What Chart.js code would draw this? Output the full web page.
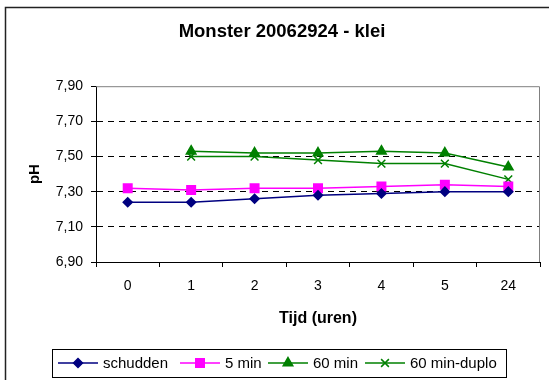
<!DOCTYPE html>
<html>
<head>
<meta charset="utf-8">
<script src="https://cdn.jsdelivr.net/npm/chart.js@4/dist/chart.umd.min.js"></script>
<style>
  body { margin: 0; background: #fff; }
  #wrap { width: 549px; height: 380px; }
</style>
</head>
<body>
<div id="wrap"><canvas id="phChart" width="549" height="380"></canvas></div>
<script>
// data
const uren = ['0', '1', '2', '3', '4', '5', '24'];
const schudden = [7.24, 7.24, 7.26, 7.28, 7.29, 7.30, 7.30];
const vijfMin = [7.32, 7.31, 7.32, 7.32, 7.33, 7.34, 7.33];
const zestigMin = [null, 7.53, 7.52, 7.52, 7.53, 7.52, 7.44];
const zestigMinDuplo = [null, 7.50, 7.50, 7.48, 7.46, 7.46, 7.37];
const yTicks = [6.9, 7.1, 7.3, 7.5, 7.7, 7.9];

Chart.defaults.font.family = '"Liberation Sans", Arial, sans-serif';
Chart.defaults.color = '#000';

// frame round the whole chart + grey top/right edge of the plot
const frames = {
    id: 'frames',
    beforeDraw(chart) {
        const ctx = chart.ctx;
        ctx.save();
        ctx.strokeStyle = '#222';
        ctx.lineWidth = 1.5;
        ctx.strokeRect(5.5, 7.5, 700, 500);
        ctx.restore();
    },
    beforeDatasetsDraw(chart) {
        const a = chart.chartArea;
        const ctx = chart.ctx;
        ctx.save();
        ctx.strokeStyle = '#808080';
        ctx.lineWidth = 1;
        ctx.beginPath();
        ctx.moveTo(a.left, a.top + 0.5);
        ctx.lineTo(a.right - 0.5, a.top + 0.5);
        ctx.lineTo(a.right - 0.5, a.bottom);
        ctx.stroke();
        ctx.restore();
    }
};

// boxed legend with line + marker samples
const boxLegend = {
    id: 'boxLegend',
    afterDraw(chart) {
        const ctx = chart.ctx;
        const starts = [58, 180, 268, 365];
        const y = 363;
        ctx.save();
        ctx.strokeStyle = '#000';
        ctx.lineWidth = 1;
        ctx.strokeRect(52.5, 349.5, 454, 28);
        ctx.font = '15px "Liberation Sans", Arial, sans-serif';
        ctx.textBaseline = 'middle';
        ctx.textAlign = 'left';
        chart.data.datasets.forEach((ds, i) => {
            const x0 = starts[i];
            ctx.strokeStyle = ds.borderColor;
            ctx.lineWidth = ds.borderWidth;
            ctx.beginPath();
            ctx.moveTo(x0, y);
            ctx.lineTo(x0 + 40, y);
            ctx.stroke();
            ctx.fillStyle = ds.pointBackgroundColor;
            ctx.strokeStyle = ds.pointBorderColor;
            ctx.lineWidth = 1.5;
            Chart.helpers.drawPoint(ctx, {
                pointStyle: ds.pointStyle,
                radius: ds.pointRadius,
                rotation: 0,
                borderWidth: 1.5
            }, x0 + 20, y);
            ctx.fillStyle = '#000';
            ctx.fillText(ds.label, x0 + 45, y + 1);
        });
        ctx.restore();
    }
};

const ctx = document.getElementById('phChart').getContext('2d');
const phChart = new Chart(ctx, {
    type: 'line',
    data: {
        labels: uren,
        datasets: [{
            label: 'schudden',
            data: schudden,
            borderColor: '#000080',
            borderWidth: 1.5,
            pointStyle: 'rectRot',
            pointRadius: 4.5,
            pointBackgroundColor: '#000080',
            pointBorderColor: '#000080'
        }, {
            label: '5 min',
            data: vijfMin,
            borderColor: '#FF00FF',
            borderWidth: 1.5,
            pointStyle: 'rect',
            pointRadius: 6,
            pointBackgroundColor: '#FF00FF',
            pointBorderColor: '#FF00FF'
        }, {
            label: '60 min',
            data: zestigMin,
            borderColor: '#008000',
            borderWidth: 1.5,
            pointStyle: 'triangle',
            pointRadius: 5.5,
            pointBackgroundColor: '#008000',
            pointBorderColor: '#008000'
        }, {
            label: '60 min-duplo',
            data: zestigMinDuplo,
            borderColor: '#008000',
            borderWidth: 1.5,
            pointStyle: 'crossRot',
            pointRadius: 5.5,
            pointBorderWidth: 1.5,
            pointBackgroundColor: '#008000',
            pointBorderColor: '#008000'
        }]
    },
    options: {
        responsive: false,
        animation: false,
        layout: { padding: { left: 24, right: 9, top: 0, bottom: 40 } },
        plugins: {
            legend: { display: false },
            tooltip: { enabled: false },
            title: {
                display: true,
                text: 'Monster 20062924 - klei',
                font: { size: 18.5, weight: 'bold' },
                color: '#000',
                padding: { top: 21, bottom: 43 }
            }
        },
        scales: {
            x: {
                offset: true,
                grid: {
                    offset: true,
                    drawOnChartArea: false,
                    tickLength: 5,
                    tickColor: '#000'
                },
                border: { color: '#000', width: 1 },
                ticks: { font: { size: 14 }, padding: 11, maxRotation: 0 },
                title: {
                    display: true,
                    text: 'Tijd (uren)',
                    font: { size: 16, weight: 'bold' },
                    padding: { top: 0, bottom: 12 }
                },
                afterFit(scale) { scale.height = 78; }
            },
            y: {
                min: yTicks[0],
                max: yTicks[yTicks.length - 1],
                afterBuildTicks(scale) {
                    scale.ticks = yTicks.map(v => ({ value: v }));
                },
                grid: {
                    color(c) {
                        const v = c.tick ? c.tick.value : 0;
                        if (Math.abs(v - yTicks[0]) < 1e-6 || Math.abs(v - yTicks[yTicks.length - 1]) < 1e-6) {
                            return 'rgba(0,0,0,0)';
                        }
                        return '#000';
                    },
                    tickColor: '#000',
                    tickLength: 5,
                    lineWidth: 1
                },
                border: { color: '#000', width: 1, dash: [6, 5] },
                ticks: {
                    font: { size: 14 },
                    padding: 8,
                    callback: v => Number(v).toFixed(2).replace('.', ',')
                },
                title: {
                    display: true,
                    text: 'pH',
                    font: { size: 15, weight: 'bold' },
                    padding: { top: 2, bottom: 0 }
                },
                afterFit(scale) { scale.width = 72; }
            }
        }
    },
    plugins: [frames, boxLegend]
});
</script>
</body>
</html>
